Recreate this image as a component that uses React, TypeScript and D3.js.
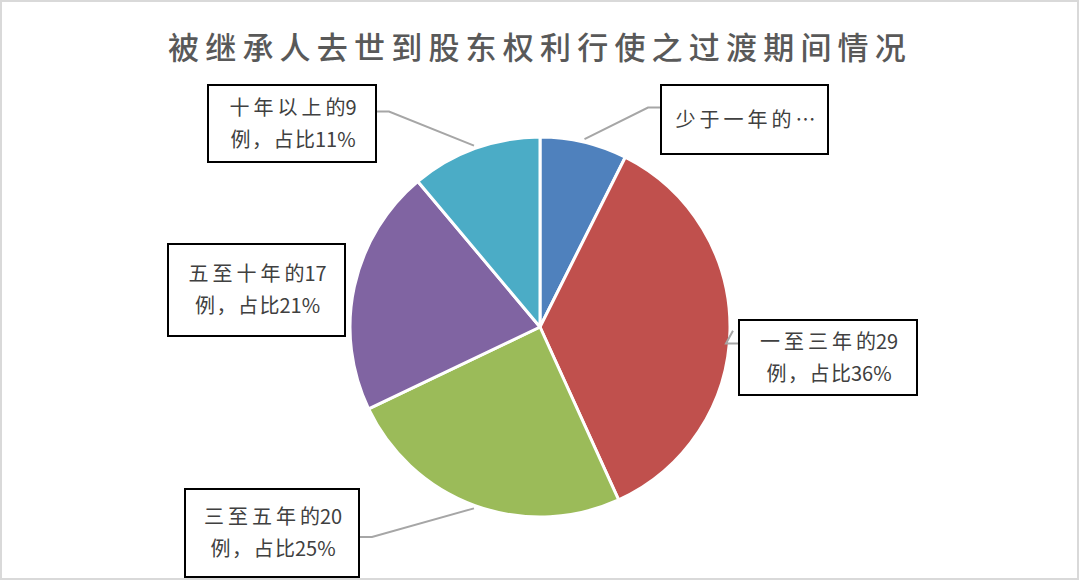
import React, { useRef, useEffect } from "react";
import * as d3 from "d3";

// chart data
const title = "被继承人去世到股东权利行使之过渡期间情况";
const categories = ["少于一年", "一至三年", "三至五年", "五至十年", "十年以上"];
const counts = [6, 29, 20, 17, 9];
const colors = ["#4f81bd", "#c0504d", "#9bbb59", "#8064a2", "#4bacc6"];
// the first label is cut off in the original
const truncated = [true, false, false, false, false];

// label box placement (x, y, w, h) and which side the leader leaves from
const boxes = [
  { x: 661, y: 85, w: 167, h: 69, side: "left" },
  { x: 739, y: 320, w: 178, h: 75, side: "left" },
  { x: 185, y: 489, w: 174, h: 88, side: "right" },
  { x: 168, y: 244, w: 177, h: 92, side: "right" },
  { x: 208, y: 85, w: 168, h: 77, side: "right" },
];
const showLeader = [true, true, true, false, true];

const width = 1080;
const height = 581;

const App = () => {
  const ref = useRef<SVGSVGElement | null>(null);

  useEffect(() => {
    if (!ref.current) return;
    const svg = d3.select(ref.current);
    svg.selectAll("*").remove();

    const font = "'Noto Sans CJK SC', 'Noto Sans', sans-serif";
    const cx = 540;
    const cy = 327;
    const radius = 190;
    const total = d3.sum(counts);

    // outer frame
    svg
      .append("rect")
      .attr("x", 1)
      .attr("y", 1)
      .attr("width", width - 3)
      .attr("height", height - 3)
      .attr("fill", "#fff")
      .attr("stroke", "#d9d9d9")
      .attr("stroke-width", 2);

    svg
      .append("text")
      .attr("x", 540)
      .attr("y", 59)
      .attr("text-anchor", "middle")
      .attr("font-size", 31)
      .attr("font-weight", 500)
      .attr("letter-spacing", 6.2)
      .attr("fill", "#595959")
      .style("font-family", font)
      .text(title);

    const pie = d3
      .pie<number>()
      .value((d) => d)
      .sort(null);
    const arcs = pie(counts);

    const arc = d3.arc<d3.PieArcDatum<number>>().innerRadius(0).outerRadius(radius);
    const edge = d3
      .arc<d3.PieArcDatum<number>>()
      .innerRadius(radius + 3)
      .outerRadius(radius + 3);

    const g = svg.append("g").attr("transform", `translate(${cx},${cy})`);

    g.selectAll("path")
      .data(arcs)
      .enter()
      .append("path")
      .attr("d", arc)
      .attr("fill", (_, i) => colors[i])
      .attr("stroke", "#fff")
      .attr("stroke-width", 3)
      .attr("stroke-linejoin", "round");

    // leader lines
    arcs.forEach((a, i) => {
      if (!showLeader[i]) return;
      const b = boxes[i];
      const [ex, ey] = edge.centroid(a);
      const bx = b.side === "left" ? b.x : b.x + b.w;
      const by = b.y + b.h / 2 - (i === 1 ? 14 : i === 2 ? -4 : 12);
      const kx = b.side === "left" ? bx - 13 : bx + 13;
      const pts: [number, number][] = [
        [bx, by],
        [kx, by],
        [cx + ex, cy + ey],
      ];
      svg
        .append("path")
        .attr("d", d3.line()(pts))
        .attr("fill", "none")
        .attr("stroke", "#a6a6a6")
        .attr("stroke-width", 2);
    });

    // label boxes
    categories.forEach((cat, i) => {
      const b = boxes[i];
      const pct = Math.round((counts[i] / total) * 100);
      const lines = truncated[i]
        ? [`${cat}的…`]
        : [`${cat}的${counts[i]}`, `例，占比${pct}%`];

      svg
        .append("rect")
        .attr("x", b.x)
        .attr("y", b.y)
        .attr("width", b.w)
        .attr("height", b.h)
        .attr("fill", "#fff")
        .attr("stroke", "#000")
        .attr("stroke-width", 2);

      const mid = b.y + b.h / 2;
      lines.forEach((ln, j) => {
        const dy = (j - (lines.length - 1) / 2) * 32;
        const t = svg
          .append("text")
          .attr("x", b.x + b.w / 2 + 1)
          .attr("y", mid + dy)
          .attr("dy", "0.36em")
          .attr("text-anchor", "middle")
          .attr("font-size", 20)
          .attr("fill", "#404040")
          .style("font-family", font);
        // wide spacing between CJK glyphs, none before digits
        const chars = Array.from(ln);
        chars.forEach((c, k) => {
          const next = chars[k + 1];
          const cjk = !/[0-9%]/.test(c);
          const gap = cjk && next && !/[0-9%]/.test(next) ? (j === 0 ? 4 : 1.5) : 0;
          t.append("tspan").attr("letter-spacing", gap).text(c);
        });
      });
    });
  }, []);

  return (
    <svg
      ref={ref}
      width={width}
      height={height}
      viewBox={`0 0 ${width} ${height}`}
      style={{ position: "absolute", left: 0, top: 0, background: "#fff" }}
    />
  );
};

export default App;
